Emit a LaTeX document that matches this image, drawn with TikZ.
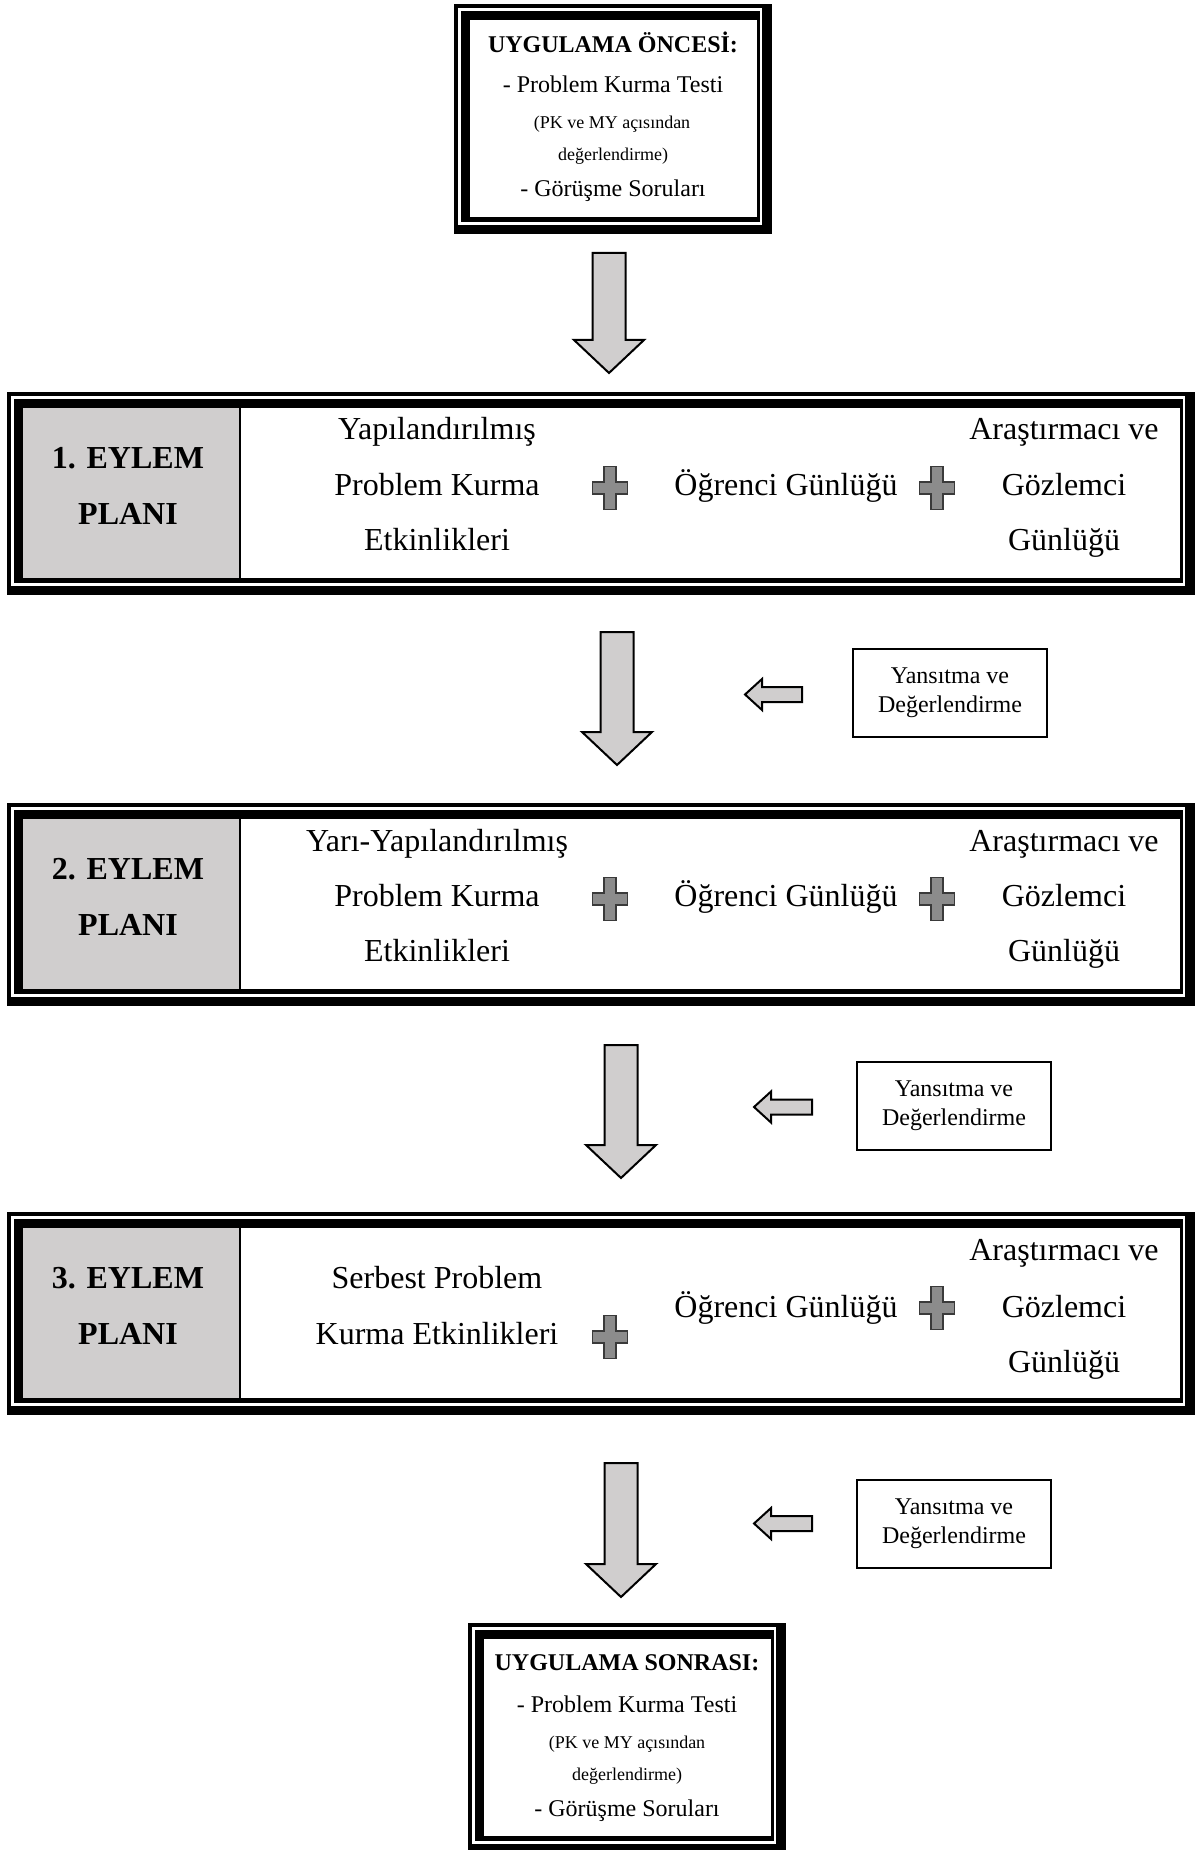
\documentclass[tikz,border=0pt]{standalone}
\usepackage{fontspec}
\setmainfont{Liberation Serif}
\usetikzlibrary{positioning, fit, backgrounds, calc}
\definecolor{cellgray}{HTML}{D0CECE}
\definecolor{plusgray}{HTML}{8C8C8C}
\definecolor{plusedge}{HTML}{3A3A3A}
\tikzstyle{content} = [inner sep=0pt, fill=white]
\tikzstyle{labelcell} = [inner sep=0pt, fill=cellgray]
\tikzstyle{reflect} = [draw, line width=1pt, fill=white, minimum width=97pt, minimum height=44pt, align=center, inner sep=0pt, font=\fontsize{12}{14.5}\selectfont]
\tikzstyle{blockarrow} = [draw=black, line width=1pt, fill=cellgray, line join=miter]
\tikzstyle{txtplan} = [anchor=base, inner sep=0pt, font=\fontsize{16}{19}\selectfont]
\tikzstyle{txtbold} = [anchor=base, inner sep=0pt, font=\fontsize{16}{19}\selectfont\bfseries]
\tikzstyle{txthead} = [anchor=base, inner sep=0pt, font=\fontsize{12}{14}\selectfont\bfseries]
\tikzstyle{txtline} = [anchor=base, inner sep=0pt, font=\fontsize{12}{14}\selectfont]
\tikzstyle{txtnote} = [anchor=base, inner sep=0pt, font=\fontsize{9}{11}\selectfont]

% thick-thin frame round a content node
\newcommand{\dframe}[1]{%
  \begin{scope}[on background layer]
    \fill[black] ($(#1.north west)+(-16,-16)$) rectangle ($(#1.south east)+(15,17)$);
    \fill[white] ($(#1.north west)+(-12,-12)$) rectangle ($(#1.south east)+(5,8)$);
    \fill[black] ($(#1.north west)+(-9,-9)$) rectangle ($(#1.south east)+(3,5)$);
  \end{scope}}
\newcommand{\arrowdown}[2]{%
  \draw[blockarrow] ($(#1)+(-16.5,0)$) -- ($(#1)+(16.5,0)$) -- ($(#2)+(16.5,-33)$) -- ($(#2)+(35,-33)$) -- (#2) -- ($(#2)+(-35,-33)$) -- ($(#2)+(-16.5,-33)$) -- cycle;}
\newcommand{\arrowleft}[2]{%
  \draw[blockarrow] (#1) -- ($(#1)+(17,-15.5)$) -- ($(#1)+(17,-7.5)$) -- ($(#2)+(0,-7.5)$) -- ($(#2)+(0,7.5)$) -- ($(#1)+(17,7.5)$) -- ($(#1)+(17,15.5)$) -- cycle;}
\newcommand{\addsign}[1]{%
  \draw[plusedge, fill=plusgray, line width=0.8pt] ($(#1)+(-6,-21.5)$) -- ($(#1)+(6,-21.5)$) -- ($(#1)+(6,-6)$) -- ($(#1)+(17.5,-6)$) -- ($(#1)+(17.5,6)$) -- ($(#1)+(6,6)$) -- ($(#1)+(6,21.5)$) -- ($(#1)+(-6,21.5)$) -- ($(#1)+(-6,6)$) -- ($(#1)+(-17.5,6)$) -- ($(#1)+(-17.5,-6)$) -- ($(#1)+(-6,-6)$) -- cycle;}

\begin{document}
\begin{tikzpicture}[x=0.5pt, y=-0.5pt]
    \useasboundingbox (0,0) rectangle (1200,1850);
    \begin{scope}[on background layer]
        \fill[white] (0,0) rectangle (1200,1850);
    \end{scope}

    % before
    \node[content, fit={(470,20) (757,217)}] (pre) {};
    \dframe{pre}
    \node[txthead] (pre1) at (613,53) {UYGULAMA ÖNCESİ:};
    \node[txtline] (pre2) at (613,93) {- Problem Kurma Testi};
    \node[txtnote] (pre3) at (612,129) {(PK ve MY açısından};
    \node[txtnote] (pre4) at (613,161) {değerlendirme)};
    \node[txtline] (pre5) at (613,197) {- Görüşme Soruları};

    \coordinate (a1t) at (609,253);
    \coordinate (a1b) at (609,373);
    \arrowdown{a1t}{a1b}

    % plan 1
    \node[content, fit={(23,408) (1180,578)}] (p1) {};
    \dframe{p1}
    \node[labelcell, fit={(23,408) (240,578)}] (e1) {};
    \draw[line width=1pt] (e1.north east) -- (e1.south east);
    \node[txtbold] (e1a) at (128,468) {1. EYLEM};
    \node[txtbold] (e1b) at (128,524) {PLANI};
    \node[txtplan] (c1a) at (437,440) {Yapılandırılmış};
    \node[txtplan] (c1b) at (437,495) {Problem Kurma};
    \node[txtplan] (c1c) at (437,550) {Etkinlikleri};
    \node[txtplan] (m1) at (786,495) {Öğrenci Günlüğü};
    \node[txtplan] (g1a) at (1064,440) {Araştırmacı ve};
    \node[txtplan] (g1b) at (1064,495) {Gözlemci};
    \node[txtplan] (g1c) at (1064,550) {Günlüğü};
    \coordinate (s1a) at (610,488);
    \coordinate (s1b) at (937,488);
    \addsign{s1a}
    \addsign{s1b}

    \coordinate (a2t) at (617,632);
    \coordinate (a2b) at (617,765);
    \arrowdown{a2t}{a2b}
    \node[reflect] (r1) at (950,693) {Yansıtma ve\\Değerlendirme};
    \coordinate (l1) at (745,694.5);
    \coordinate (l1e) at (802,694.5);
    \arrowleft{l1}{l1e}

    % plan 2
    \node[content, fit={(23,819) (1180,989)}] (p2) {};
    \dframe{p2}
    \node[labelcell, fit={(23,819) (240,989)}] (e2) {};
    \draw[line width=1pt] (e2.north east) -- (e2.south east);
    \node[txtbold] (e2a) at (128,879) {2. EYLEM};
    \node[txtbold] (e2b) at (128,935) {PLANI};
    \node[txtplan] (c2a) at (437,851) {Yarı-Yapılandırılmış};
    \node[txtplan] (c2b) at (437,906) {Problem Kurma};
    \node[txtplan] (c2c) at (437,961) {Etkinlikleri};
    \node[txtplan] (m2) at (786,906) {Öğrenci Günlüğü};
    \node[txtplan] (g2a) at (1064,851) {Araştırmacı ve};
    \node[txtplan] (g2b) at (1064,906) {Gözlemci};
    \node[txtplan] (g2c) at (1064,961) {Günlüğü};
    \coordinate (s2a) at (610,899);
    \coordinate (s2b) at (937,899);
    \addsign{s2a}
    \addsign{s2b}

    \coordinate (a3t) at (621,1045);
    \coordinate (a3b) at (621,1178);
    \arrowdown{a3t}{a3b}
    \node[reflect] (r2) at (954,1105.5) {Yansıtma ve\\Değerlendirme};
    \coordinate (l2) at (754,1107);
    \coordinate (l2e) at (812,1107);
    \arrowleft{l2}{l2e}

    % plan 3
    \node[content, fit={(23,1228) (1180,1398)}] (p3) {};
    \dframe{p3}
    \node[labelcell, fit={(23,1228) (240,1398)}] (e3) {};
    \draw[line width=1pt] (e3.north east) -- (e3.south east);
    \node[txtbold] (e3a) at (128,1288) {3. EYLEM};
    \node[txtbold] (e3b) at (128,1344) {PLANI};
    \node[txtplan] (c3a) at (437,1288) {Serbest Problem};
    \node[txtplan] (c3b) at (437,1344) {Kurma Etkinlikleri};
    \node[txtplan] (m3) at (786,1317) {Öğrenci Günlüğü};
    \node[txtplan] (g3a) at (1064,1260) {Araştırmacı ve};
    \node[txtplan] (g3b) at (1064,1317) {Gözlemci};
    \node[txtplan] (g3c) at (1064,1372) {Günlüğü};
    \coordinate (s3a) at (610,1337);
    \coordinate (s3b) at (937,1308);
    \addsign{s3a}
    \addsign{s3b}

    \coordinate (a4t) at (621,1463);
    \coordinate (a4b) at (621,1597);
    \arrowdown{a4t}{a4b}
    \node[reflect] (r3) at (954,1523.5) {Yansıtma ve\\Değerlendirme};
    \coordinate (l3) at (754,1523.5);
    \coordinate (l3e) at (812,1523.5);
    \arrowleft{l3}{l3e}

    % after
    \node[content, fit={(484,1639) (771,1836)}] (post) {};
    \dframe{post}
    \node[txthead] (post1) at (627,1670) {UYGULAMA SONRASI:};
    \node[txtline] (post2) at (627,1712) {- Problem Kurma Testi};
    \node[txtnote] (post3) at (627,1748) {(PK ve MY açısından};
    \node[txtnote] (post4) at (627,1780) {değerlendirme)};
    \node[txtline] (post5) at (627,1816) {- Görüşme Soruları};
\end{tikzpicture}
\end{document}
